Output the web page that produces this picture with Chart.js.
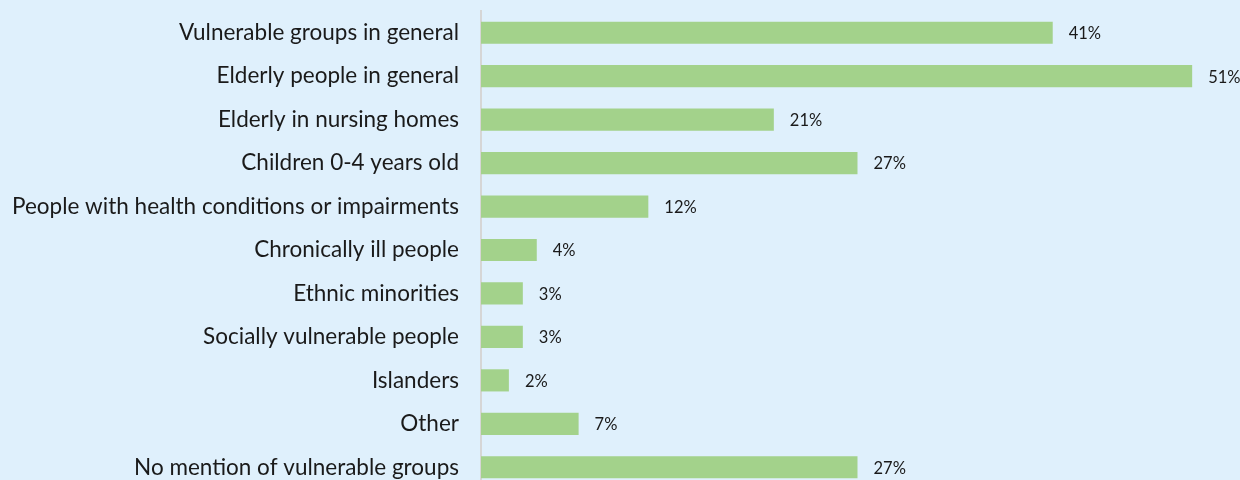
<!DOCTYPE html>
<html>
<head>
<meta charset="utf-8">
<script src="https://cdn.jsdelivr.net/npm/chart.js@4/dist/chart.umd.min.js"></script>
<style>
  html, body { margin: 0; padding: 0; background: #dff0fc; overflow: hidden; }
  canvas { display: block; }
</style>
</head>
<body>
<canvas id="myChart" width="1240" height="489"></canvas>
<script>
// vulnerable groups mentioned (share of plans)
const groups = [
  "Vulnerable groups in general",
  "Elderly people in general",
  "Elderly in nursing homes",
  "Children 0-4 years old",
  "People with health conditions or impairments",
  "Chronically ill people",
  "Ethnic minorities",
  "Socially vulnerable people",
  "Islanders",
  "Other",
  "No mention of vulnerable groups"
];
const shares = [41, 51, 21, 27, 12, 4, 3, 3, 2, 7, 27];

// draws the "41%" style labels after each bar
const valueLabels = {
  id: "valueLabels",
  afterDatasetsDraw(chart) {
    const ctx = chart.ctx;
    const meta = chart.getDatasetMeta(0);
    ctx.save();
    ctx.font = "16.5px Lato";
    ctx.fillStyle = "#1a1a1a";
    ctx.textBaseline = "middle";
    meta.data.forEach((bar, i) => {
      ctx.fillText(shares[i] + "%", bar.x + 16, bar.y + 1);
    });
    ctx.restore();
  }
};

new Chart(document.getElementById("myChart"), {
  type: "bar",
  data: {
    labels: groups,
    datasets: [{
      data: shares,
      backgroundColor: "#a3d28b",
      borderWidth: 0,
      barPercentage: 0.51,
      categoryPercentage: 1
    }]
  },
  options: {
    indexAxis: "y",
    responsive: false,
    animation: false,
    layout: { padding: { top: 11, right: 6, bottom: 0, left: 0 } },
    plugins: { legend: { display: false }, tooltip: { enabled: false } },
    scales: {
      x: { display: false, min: 0, max: 54 },
      y: {
        grid: { display: false, drawTicks: false },
        border: { display: true, color: "#d6d6d6", width: 2 },
        ticks: {
          color: "#1a1a1a",
          padding: 22,
          font: { family: "Lato", size: 22.5 }
        },
        afterFit(scale) {
          scale.width = 481;
          scale.paddingTop = 0;
          scale.paddingBottom = 0;
        }
      }
    }
  },
  plugins: [valueLabels]
});
</script>
</body>
</html>
